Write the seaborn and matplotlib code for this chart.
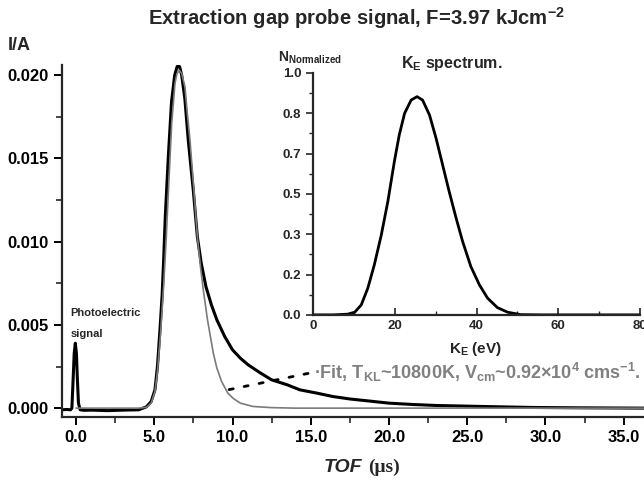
import numpy as np
import pandas as pd
import matplotlib
matplotlib.use("Agg")
import matplotlib.pyplot as plt
from matplotlib.ticker import MultipleLocator, FormatStrFormatter, FixedLocator
import seaborn as sns

# --- podaci ocitani sa slike ---
# izmjereni signal (crno)
tof_signal = [-0.9, -0.6, -0.35, -0.27, -0.2, -0.12, -0.05, 0.02, 0.08, 0.15, 0.26, 0.5, 1.0, 2.0,
              3.0, 4.0, 4.5, 4.8, 5.04, 5.2, 5.36, 5.5, 5.6, 5.7, 5.9, 6.1, 6.3, 6.45, 6.53, 6.62,
              6.75, 6.95, 7.17, 7.35, 7.49, 7.62, 7.75, 8.0, 8.3, 8.65, 9.0, 9.5, 10.0, 10.5, 11.0,
              11.8, 12.5, 13.5, 14.3, 15.4, 16.4, 17.5, 18.6, 20.0, 21.5, 23.0, 25.0, 27.0, 29.2,
              32.0, 36.3]
i_signal = [-0.0001, -0.00008, -0.0001, 0.0, 0.0015, 0.0033, 0.0039, 0.0033, 0.0018, 0.0003,
            -0.0001, -0.00013, -0.00012, -0.00015, -0.00012, -0.0001, 0.00008, 0.0004, 0.0011,
            0.0025, 0.0047, 0.0068, 0.0090, 0.0115, 0.0152, 0.0184, 0.0200, 0.0205, 0.0206,
            0.0205, 0.0200, 0.0186, 0.0161, 0.0144, 0.0131, 0.0117, 0.0103, 0.0087, 0.0073,
            0.0062, 0.0053, 0.0043, 0.0035, 0.0030, 0.0026, 0.0021, 0.0017, 0.0014, 0.0011,
            0.0009, 0.0007, 0.00055, 0.00044, 0.0003, 0.00022, 0.00016, 0.00012, 0.00008,
            0.00004, 0.00002, 0.0]

# fit (sivo)
tof_fit = [0.0, 4.0, 4.5, 4.8, 5.04, 5.2, 5.4, 5.6, 5.75, 5.95, 6.11, 6.32, 6.45, 6.6, 6.75,
           6.96, 7.1, 7.28, 7.53, 7.75, 7.95, 8.13, 8.4, 8.77, 9.0, 9.3, 9.7, 10.05, 10.5, 11.3,
           12.5, 14.0, 36.3]
i_fit = [0.0, 0.0, 0.00005, 0.0003, 0.001, 0.0022, 0.0045, 0.0074, 0.0100, 0.0140, 0.0171,
         0.0195, 0.0201, 0.0203, 0.0201, 0.0193, 0.0178, 0.0161, 0.0131, 0.0103, 0.0085,
         0.0071, 0.0053, 0.0033, 0.0024, 0.0016, 0.0009, 0.00058, 0.0003, 0.0001, 0.00003,
         0.0, 0.0]

# K_E spektar (umetak)
ke_energy = [0, 5, 8.5, 10.2, 11.8, 13.4, 15.0, 16.7, 18.3, 19.9, 21.1, 22.4, 24.0, 25.45, 26.8,
             28.5, 30.1, 31.7, 33.3, 35.0, 36.6, 38.6, 40.7, 42.7, 45.1, 47.6, 50.8, 56, 80]
ke_counts = [0, 0, 0.003, 0.011, 0.041, 0.11, 0.207, 0.33, 0.468, 0.634, 0.744, 0.833, 0.888,
             0.902, 0.888, 0.826, 0.73, 0.62, 0.51, 0.40, 0.303, 0.20, 0.124, 0.069, 0.030,
             0.011, 0.001, 0, 0]

inset_ytick_labels = ["0.0", "0.2", "0.3", "0.5", "0.7", "0.8", "1.0"]

df_sig = pd.DataFrame({"tof": tof_signal, "i": i_signal})
df_fit = pd.DataFrame({"tof": tof_fit, "i": i_fit})
df_ke = pd.DataFrame({"ke": ke_energy, "n": ke_counts})

sns.set_theme(style="ticks")
plt.rcParams["font.family"] = ["Liberation Sans", "DejaVu Sans"]
plt.rcParams["font.weight"] = "bold"
plt.rcParams["mathtext.default"] = "regular"
plt.rcParams["axes.linewidth"] = 1.6
plt.rcParams["lines.solid_joinstyle"] = "round"

fig = plt.figure(figsize=(6.44, 4.8), dpi=100)
ax = fig.add_axes([0.0963, 0.131, 0.9037, 0.733])

sns.lineplot(data=df_sig, x="tof", y="i", ax=ax, color="black", lw=2.2)
sns.lineplot(data=df_fit, x="tof", y="i", ax=ax, color="#7a7a7a", lw=1.2)

ax.set_xlim(-0.9, 36.3)
ax.set_ylim(-0.00054, 0.0206)
ax.xaxis.set_major_locator(MultipleLocator(5))
ax.xaxis.set_minor_locator(MultipleLocator(2.5))
ax.yaxis.set_major_locator(MultipleLocator(0.005))
ax.yaxis.set_minor_locator(MultipleLocator(0.0025))
ax.xaxis.set_major_formatter(FormatStrFormatter("%.1f"))
ax.yaxis.set_major_formatter(FormatStrFormatter("%.3f"))
ax.tick_params(which="major", length=6, width=1.4, labelsize=12, colors="black")
ax.tick_params(which="minor", length=4, width=1.2)
for lab in ax.get_xticklabels() + ax.get_yticklabels():
    lab.set_fontweight("bold")
ax.spines["top"].set_visible(False)
ax.spines["right"].set_visible(False)
ax.set_xlabel("")
ax.set_ylabel("")

fig.text(0.012, 0.906, "I/A", fontsize=13, fontweight="bold", va="center", ha="left")
fig.text(0.554, 0.962, r"Extraction gap probe signal, F=3.97 kJcm$^{-2}$",
         fontsize=14.6, fontweight="bold", ha="center", va="center")
fig.text(0.502, 0.027, "TOF", fontsize=14, fontweight="bold", style="italic", ha="left", va="center")
fig.text(0.572, 0.027, "(\u03bcs)", fontsize=14, fontweight="bold", ha="left", va="center",
         family=["Liberation Serif", "DejaVu Serif"])

ax.text(-0.38, 0.00573, "Photoelectric", fontsize=8, fontweight="bold", va="center")
ax.text(-0.38, 0.00448, "signal", fontsize=8, fontweight="bold", va="center")

# isprekidana linija do oznake fita
ax.annotate("", xy=(9.3, 0.00102), xytext=(15.0, 0.00212),
            arrowprops=dict(arrowstyle="-", linestyle=(0, (1.5, 4)), lw=2, color="black"))
ax.text(15.2, 0.00215, "\u00b7" + r"Fit, T$_{KL}$~10800K, V$_{cm}$~0.92$\times$10$^{4}$ cms$^{-1}$.",
        fontsize=13, fontweight="bold", color="#808080", va="center", ha="left")

# --- umetak: K_E spektar ---
axin = fig.add_axes([0.486, 0.344, 0.508, 0.504])
sns.lineplot(data=df_ke, x="ke", y="n", ax=axin, color="black", lw=2)
axin.set_xlim(0, 80)
axin.set_ylim(0, 1.0)
axin.xaxis.set_major_locator(MultipleLocator(20))
axin.xaxis.set_minor_locator(MultipleLocator(10))
axin.yaxis.set_major_locator(FixedLocator(np.linspace(0, 1, 7)))
axin.yaxis.set_minor_locator(FixedLocator(np.linspace(0, 1, 13)))
axin.set_yticklabels(inset_ytick_labels)
axin.xaxis.set_major_formatter(FormatStrFormatter("%d"))
axin.tick_params(axis="x", which="both", direction="in")
axin.tick_params(which="major", length=5, width=1.2, labelsize=9.5)
axin.tick_params(which="minor", length=3, width=1.0)
for lab in axin.get_xticklabels() + axin.get_yticklabels():
    lab.set_fontweight("bold")
axin.spines["top"].set_visible(False)
axin.spines["right"].set_visible(False)
axin.set_xlabel("")
axin.set_ylabel("")
axin.patch.set_alpha(0)

fig.text(0.432, 0.879, r"N$_{Normalized}$", fontsize=10, fontweight="bold", ha="left", va="center")
fig.text(0.702, 0.867, r"K$_{E}$ spectrum.", fontsize=11.5, fontweight="bold", ha="center", va="center")
fig.text(0.738, 0.272, r"K$_{E}$ (eV)", fontsize=11, fontweight="bold", ha="center", va="center")

fig.savefig("out.png", dpi=100)
